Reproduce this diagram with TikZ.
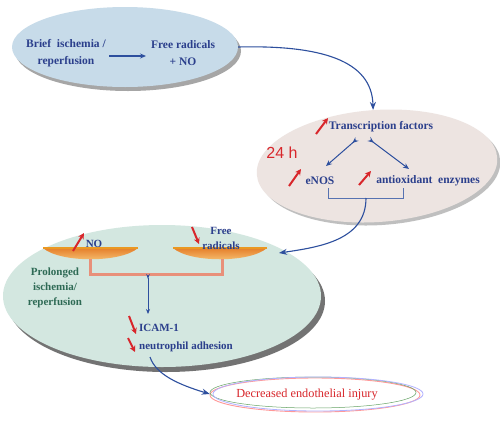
\documentclass[tikz,border=0pt]{standalone}
\usepackage{fontspec}
\setmainfont{Liberation Serif}
\newfontfamily\sansf{Liberation Sans}
\usetikzlibrary{arrows.meta,shapes.geometric,calc}
\definecolor{tblue}{HTML}{2B3F8C}
\definecolor{lblue}{HTML}{2D4F9E}
\definecolor{tred}{HTML}{D8262B}
\definecolor{tgreen}{HTML}{2E6A55}
\definecolor{eoneC}{HTML}{C7DBE9}
\definecolor{etwoC}{HTML}{EDE4E1}
\definecolor{ethreeC}{HTML}{D3E7E0}
\definecolor{beamC}{HTML}{E8907A}
\definecolor{panTop}{HTML}{E57F2A}
\definecolor{panBot}{HTML}{F9CB7E}
\tikzset{
  blob/.style={ellipse, inner sep=0pt},
  shadowblob/.style={blob, fill=black!35},
  txt/.style={font=\bfseries\fontsize{11.5}{16.5}\selectfont, text=tblue, align=center, inner sep=1pt},
  stxt/.style={txt, font=\bfseries\fontsize{11}{15}\selectfont},
  gtxt/.style={font=\bfseries\fontsize{11}{15}\selectfont, text=tgreen, align=center, inner sep=1pt},
  conn/.style={draw=lblue, line width=1.1pt, -{Stealth[length=8pt,width=6pt]}},
  thin conn/.style={draw=lblue, line width=0.8pt, {Stealth[length=5pt,width=3.5pt,reversed]}-{Stealth[length=5pt,width=4pt]}},
  tri conn/.style={draw=lblue, line width=1pt, {Stealth[length=6pt,width=5pt,reversed]}-{Stealth[length=6pt,width=5pt]}},
  redup/.style={draw=tred, line width=2pt, -{Stealth[length=6pt,width=6pt]}},
  beamline/.style={draw=beamC, line width=3pt},
}
\begin{document}
\begin{tikzpicture}[x=1pt,y=-1pt]
\useasboundingbox (0,0) rectangle (500,421);
\fill[white] (0,0) rectangle (500,421);

% ---------- ellipse 1
\node[shadowblob, minimum width=226pt, minimum height=80pt] at (128,51) {};
\node[blob, fill=eoneC, minimum width=226pt, minimum height=80pt] (e1) at (125,47) {};
\node[txt] (brief) at (66,53) {Brief\ \ ischemia /\\reperfusion};
\node[txt] (free) at (183,53) {Free radicals\\+ NO};
\coordinate (ba) at (109,56);
\coordinate (bb) at (146,56);
\draw[draw=lblue, line width=1.3pt, -{Stealth[length=6pt,width=5pt]}] (ba) -- (bb);

% ---------- ellipse 2
\node[shadowblob, fill=black!25, rotate=4, minimum width=241pt, minimum height=112pt] at (380,169) {};
\node[blob, fill=etwoC, rotate=4, minimum width=241pt, minimum height=112pt] (e2) at (377,166) {};
\node[txt] (tf) at (381,127) {Transcription factors};
\node[font=\sansf\fontsize{16}{16}\selectfont, text=tred] (h24) at (282,153) {24 h};
\node[txt] (enos) at (320,181) {eNOS};
\node[txt] (anti) at (428,181) {antioxidant\ \ enzymes};
\coordinate (t1) at (357,139);
\coordinate (t2) at (369,139);
\coordinate (h1) at (326,166);
\coordinate (h2) at (409,169);
\draw[tri conn] (t1) -- (h1);
\draw[tri conn] (t2) -- (h2);
\draw[redup] (316,134) -- (328,118);
\draw[redup] (289,186) -- (301,169);
\draw[redup] (359,185) -- (371,171);
\coordinate (bl) at (328,188);
\coordinate (br) at (403,188);
\coordinate (bm) at (366,198);
\draw[lblue!80, line width=0.7pt] (bl) -- (328,198) -- (403,198) -- (br);

% ---------- ellipse 3
\node[shadowblob, fill=black!55, minimum width=318pt, minimum height=142pt] at (166,301) {};
\node[blob, fill=ethreeC, minimum width=318pt, minimum height=142pt] (e3) at (162,296) {};
% pans
\shade[top color=panTop, bottom color=panBot] (43,248) .. controls (60,263) and (121,263) .. (138,248) -- cycle;
\shade[top color=panTop, bottom color=panBot] (173,248) .. controls (190,263) and (250,263) .. (267,248) -- cycle;
\draw[panTop!80!yellow, line width=1.2pt] (43,248) -- (138,248);
\draw[panTop!80!yellow, line width=1.2pt] (173,248) -- (267,248);
\coordinate (rp) at (279,253);
\coordinate (lb) at (90,259);
\coordinate (rb) at (222,259);
\coordinate (mb) at (148,274);
\draw[beamline] (lb) -- (90,274) -- (222,274) -- (rb);
\node[stxt] (no) at (94,244) {NO};
\node[stxt] (fr) at (221,238) {Free\\radicals};
\draw[redup] (73,251) -- (84,233);
\draw[redup] (192,227) -- (199,244);
\node[gtxt] (prol) at (55,288) {Prolonged\\ischemia/\\reperfusion};
\node[stxt, anchor=west] (icam) at (138,328) {ICAM-1};
\node[stxt, anchor=west] (neut) at (138,347) {neutrophil adhesion};
\coordinate (mt) at (148,314);
\draw[thin conn] (mb) -- (mt);
\draw[redup] (129,316) -- (136,334);
\draw[redup] (128,338) -- (135,352);

% ---------- ellipse 4
\draw[red!40, line width=0.9pt] (315,395) ellipse [x radius=105pt, y radius=17pt];
\draw[green!40!black!60, line width=0.5pt] (313,392.5) ellipse [x radius=103pt, y radius=15.5pt];
\draw[blue!30, line width=0.8pt] (318,394) ellipse [x radius=105pt, y radius=17pt];
\node[blob, minimum width=212pt, minimum height=35pt] (e4) at (316,394) {};
\node[font=\fontsize{12.3}{12}\selectfont, text=tred] (dec) at (307,395) {Decreased endothelial injury};

% ---------- connectors
\coordinate (es) at (150,357);
\draw[conn] (e1.east) .. controls (320,45) and (372,60) .. (e2.north);
\draw[conn] (bm) .. controls (366,240) and (320,247) .. (rp);
\draw[conn] (es) .. controls (156,375) and (180,385) .. (e4.west);
\end{tikzpicture}
\end{document}
